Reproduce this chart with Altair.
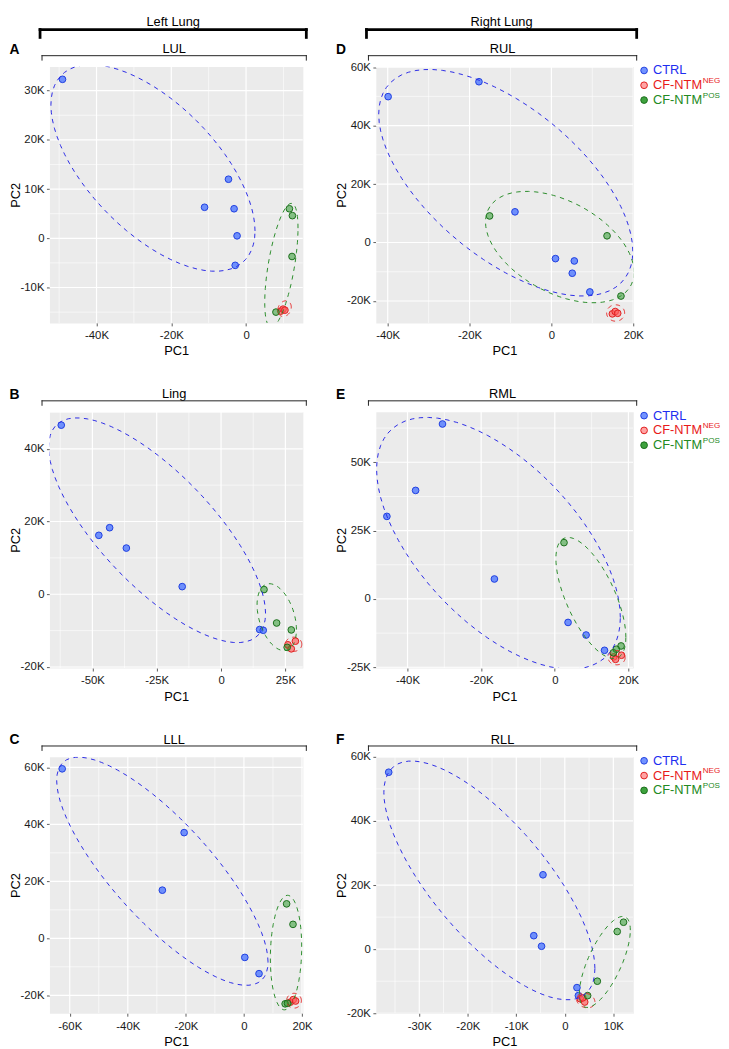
import math
import pandas as pd
import altair as alt

# ---------------- groups / colours ----------------
GROUPS = ["CTRL", "CF-NTM NEG", "CF-NTM POS"]
LEGEND_MAIN = ["CTRL", "CF-NTM", "CF-NTM"]
LEGEND_SUP = ["", "NEG", "POS"]
FILL_COLORS = ["#4A74FF", "#FF5A5A", "#2E9A2E"]
FILL_OPACITY = [0.78, 0.55, 0.92]
STROKE_COLORS = ["#1F3FE0", "#E01E1E", "#1A6E1A"]
ELLIPSE_COLORS = ["#2B2BE6", "#E62828", "#2A8C2A"]
LEGEND_TEXT_COLORS = ["#1E2EF0", "#E81A1A", "#238A23"]

# ---------------- data (PC scores, in thousands) ----------------
# LUL
LUL_CTRL_PC1 = [-49.1, -4.7, -11.1, -3.2, -2.4, -2.9]
LUL_CTRL_PC2 = [32.3, 12.0, 6.3, 6.0, 0.5, -5.5]
LUL_NEG_PC1 = [9.3, 9.9, 10.4]
LUL_NEG_PC2 = [-14.8, -14.4, -14.6]
LUL_POS_PC1 = [11.6, 12.4, 12.3, 8.0]
LUL_POS_PC2 = [6.0, 4.6, -3.7, -15.0]
# Ling
LING_CTRL_PC1 = [-62.1, -47.5, -43.3, -36.8, -15.1, 15.0, 16.4]
LING_CTRL_PC2 = [46.5, 16.2, 18.3, 12.7, 2.1, -9.7, -9.9]
LING_NEG_PC1 = [26.0, 28.9, 27.3]
LING_NEG_PC2 = [-13.9, -12.9, -15.0]
LING_POS_PC1 = [16.7, 21.6, 27.3, 25.7]
LING_POS_PC2 = [1.3, -7.9, -9.8, -14.6]
# LLL
LLL_CTRL_PC1 = [-62.6, -20.6, -28.1, 0.3, 5.2]
LLL_CTRL_PC2 = [59.5, 37.1, 16.9, -6.7, -12.4]
LLL_NEG_PC1 = [16.0, 17.0, 17.8]
LLL_NEG_PC2 = [-22.4, -21.5, -22.0]
LLL_POS_PC1 = [14.7, 16.9, 14.2, 15.0]
LLL_POS_PC2 = [12.1, 4.9, -23.0, -22.8]
# RUL
RUL_CTRL_PC1 = [-39.9, -17.7, -8.9, 1.0, 5.6, 5.1, 9.4]
RUL_CTRL_PC2 = [49.9, 55.0, 10.5, -5.5, -6.3, -10.5, -16.9]
RUL_NEG_PC1 = [14.9, 15.6, 16.2]
RUL_NEG_PC2 = [-24.4, -23.6, -24.2]
RUL_POS_PC1 = [-15.1, 13.6, 17.0]
RUL_POS_PC2 = [9.1, 2.3, -18.3]
# RML
RML_CTRL_PC1 = [-30.5, -37.8, -45.6, -16.4, 3.6, 8.5, 13.5]
RML_CTRL_PC2 = [64.0, 39.7, 30.2, 7.3, -8.6, -13.2, -18.8]
RML_NEG_PC1 = [16.0, 18.1, 16.5]
RML_NEG_PC2 = [-21.2, -20.6, -22.1]
RML_POS_PC1 = [2.5, 18.0, 16.7, 15.9]
RML_POS_PC2 = [20.6, -17.2, -18.4, -19.7]
# RLL
RLL_CTRL_PC1 = [-36.3, -4.5, -6.4, -4.8, 2.5, 2.8]
RLL_CTRL_PC2 = [55.2, 23.2, 4.2, 0.9, -12.0, -14.5]
RLL_NEG_PC1 = [3.2, 4.1, 3.7]
RLL_NEG_PC2 = [-15.5, -16.5, -15.2]
RLL_POS_PC1 = [12.1, 10.8, 6.7, 4.7]
RLL_POS_PC2 = [8.4, 5.5, -10.0, -14.5]

# ---------------- ellipses (CTRL, NEG, POS): centre, half-extent, tilt ----------------
LUL_ELL_CX = [-24.9, 10.3, 9.45]
LUL_ELL_CY = [14.3, -14.3, -5.5]
LUL_ELL_HX = [27.3, 1.8, 4.45]
LUL_ELL_HY = [21.0, 1.6, 12.6]
LUL_ELL_RHO = [-0.61, 0.2, 0.60]

LING_ELL_CX = [-24.85, 28.2, 21.65]
LING_ELL_CY = [17.6, -13.75, -6.3]
LING_ELL_HX = [42.15, 3.2, 7.65]
LING_ELL_HY = [30.9, 1.95, 9.2]
LING_ELL_RHO = [-0.74, 0.0, -0.37]

LLL_ELL_CX = [-28.1, 17.25, 14.5]
LLL_ELL_CY = [23.55, -21.9, -5.0]
LLL_ELL_HX = [36.4, 2.55, 5.4]
LLL_ELL_HY = [40.05, 2.6, 20.1]
LLL_ELL_RHO = [-0.795, 0.0, 0.1]

RUL_ELL_CX = [-11.15, 15.7, 2.05]
RUL_ELL_CY = [20.45, -24.1, -1.55]
RUL_ELL_HX = [31.05, 2.2, 18.15]
RUL_ELL_HY = [38.75, 2.8, 19.05]
RUL_ELL_RHO = [-0.605, 0.0, -0.45]

RML_ELL_CX = [-15.3, 16.8, 9.8]
RML_ELL_CY = [20.35, -21.5, 0.35]
RML_ELL_HX = [33.1, 2.3, 9.5]
RML_ELL_HY = [46.05, 2.6, 22.15]
RML_ELL_RHO = [-0.59, 0.0, -0.65]

RLL_ELL_CX = [-15.55, 4.3, 8.25]
RLL_ELL_CY = [21.45, -16.0, -4.0]
RLL_ELL_HX = [21.75, 1.9, 5.25]
RLL_ELL_HY = [37.25, 2.3, 14.2]
RLL_ELL_RHO = [-0.737, -0.2, 0.70]

# ---------------- axes: ranges, major / minor ticks ----------------
LUL_X_RANGE = [-52.6, 15.2]
LUL_Y_RANGE = [-17.2, 34.9]
LUL_X_TICKS = [-40, -20, 0]
LUL_X_MINOR = [-50, -30, -10, 10]
LUL_Y_TICKS = [-10, 0, 10, 20, 30]
LUL_Y_MINOR = [-15, -5, 5, 15, 25]

LING_X_RANGE = [-66.7, 31.8]
LING_Y_RANGE = [-20.3, 50.2]
LING_X_TICKS = [-50, -25, 0, 25]
LING_X_MINOR = [-62.5, -37.5, -12.5, 12.5]
LING_Y_TICKS = [-20, 0, 20, 40]
LING_Y_MINOR = [-10, 10, 30, 50]

LLL_X_RANGE = [-67.0, 20.3]
LLL_Y_RANGE = [-26.3, 63.7]
LLL_X_TICKS = [-60, -40, -20, 0, 20]
LLL_X_MINOR = [-50, -30, -10, 10]
LLL_Y_TICKS = [-20, 0, 20, 40, 60]
LLL_Y_MINOR = [-10, 10, 30, 50]

RUL_X_RANGE = [-42.9, 20.0]
RUL_Y_RANGE = [-27.5, 60.2]
RUL_X_TICKS = [-40, -20, 0, 20]
RUL_X_MINOR = [-30, -10, 10]
RUL_Y_TICKS = [-20, 0, 20, 40, 60]
RUL_Y_MINOR = [-10, 10, 30, 50]

RML_X_RANGE = [-48.6, 21.3]
RML_Y_RANGE = [-25.3, 68.5]
RML_X_TICKS = [-40, -20, 0, 20]
RML_X_MINOR = [-30, -10, 10]
RML_Y_TICKS = [-25, 0, 25, 50]
RML_Y_MINOR = [-12.5, 12.5, 37.5, 62.5]

RLL_X_RANGE = [-38.95, 14.1]
RLL_Y_RANGE = [-20.0, 60.0]
RLL_X_TICKS = [-30, -20, -10, 0, 10]
RLL_X_MINOR = [-35, -25, -15, -5, 5]
RLL_Y_TICKS = [-20, 0, 20, 40, 60]
RLL_Y_MINOR = [-10, 10, 30, 50]

FONT = "Liberation Sans"
LABEL_EXPR = "datum.value == 0 ? '0' : datum.value + 'K'"
ONE = pd.DataFrame({"k": [0]})
H = 260


def points_frame(xs_all, ys_all):
    rows = []
    for g, xs, ys in zip(GROUPS, xs_all, ys_all):
        for x, y in zip(xs, ys):
            rows.append({"group": g, "pc1": x, "pc2": y, "k": len(rows)})
    return pd.DataFrame(rows)


def ellipse_frame(cx, cy, hx, hy, rho, n=73):
    rows = []
    for g, a, b, c, d, r in zip(GROUPS, cx, cy, hx, hy, rho):
        s = math.sqrt(1 - r * r)
        for i in range(n):
            t = 2 * math.pi * i / (n - 1)
            rows.append({"group": g, "t": i,
                         "pc1": a + c * math.cos(t),
                         "pc2": b + d * (r * math.cos(t) + s * math.sin(t))})
    return pd.DataFrame(rows)


def text_layer(s, x, y, size=13, weight="normal", align="center",
               baseline="alphabetic", color="#000000"):
    return alt.Chart(ONE).mark_text(
        text=s, fontSize=size, fontWeight=weight, align=align,
        baseline=baseline, color=color, font=FONT
    ).encode(x=alt.value(x), y=alt.value(y))


def hrule(x1, x2, y, w, color):
    return alt.Chart(ONE).mark_rule(strokeWidth=w, color=color, strokeCap="square").encode(
        x=alt.value(x1), x2=alt.value(x2), y=alt.value(y))


def vrule(x, y1, y2, w, color):
    return alt.Chart(ONE).mark_rule(strokeWidth=w, color=color, strokeCap="square").encode(
        x=alt.value(x), y=alt.value(y1), y2=alt.value(y2))


def panel(strip, letter, pts, ell, xr, yr, xt, xm, yt, ym, width,
          header=None, legend=False):
    sx = alt.Scale(domain=xr, nice=False, zero=False)
    sy = alt.Scale(domain=yr, nice=False, zero=False)
    gscale = lambda rng: alt.Scale(domain=GROUPS, range=rng)

    xaxis = alt.Axis(values=xt, labelExpr=LABEL_EXPR, title="PC1", grid=False, domain=False,
                     tickSize=3, tickColor="#333333", tickWidth=0.8, labelFontSize=11.5,
                     labelColor="#1a1a1a", labelPadding=4, labelFlush=False, labelOverlap=False,
                     titleFontSize=13, titleFontWeight="normal", titleColor="#000000",
                     titlePadding=4)
    yaxis = alt.Axis(values=yt, labelExpr=LABEL_EXPR, title="PC2", grid=False, domain=False,
                     tickSize=3, tickColor="#333333", tickWidth=0.8, labelFontSize=11.5,
                     labelColor="#1a1a1a", labelPadding=2.5, labelFlush=False, labelOverlap=False,
                     titleFontSize=13, titleFontWeight="normal", titleColor="#000000",
                     titlePadding=-2)
    X = lambda f: alt.X(f, scale=sx, axis=xaxis)
    Y = lambda f: alt.Y(f, scale=sy, axis=yaxis)

    layers = [
        alt.Chart(pd.DataFrame({"v": xm})).mark_rule(color="white", strokeWidth=0.6, clip=True)
        .encode(x=X("v:Q")),
        alt.Chart(pd.DataFrame({"v": ym})).mark_rule(color="white", strokeWidth=0.6, clip=True)
        .encode(y=Y("v:Q")),
        alt.Chart(pd.DataFrame({"v": xt})).mark_rule(color="white", strokeWidth=1.2, clip=True)
        .encode(x=X("v:Q")),
        alt.Chart(pd.DataFrame({"v": yt})).mark_rule(color="white", strokeWidth=1.2, clip=True)
        .encode(y=Y("v:Q")),
        alt.Chart(pts).mark_circle(size=46, strokeWidth=1, opacity=1, clip=True).encode(
            x=X("pc1:Q"), y=Y("pc2:Q"),
            fill=alt.Fill("group:N", scale=gscale(FILL_COLORS), legend=None),
            fillOpacity=alt.FillOpacity("group:N", scale=gscale(FILL_OPACITY), legend=None),
            stroke=alt.Stroke("group:N", scale=gscale(STROKE_COLORS), legend=None),
            order=alt.Order("k:Q"),
        ),
        alt.Chart(ell).mark_line(strokeDash=[4.5, 4.5], strokeWidth=1.0, clip=True).encode(
            x=X("pc1:Q"), y=Y("pc2:Q"),
            color=alt.Color("group:N", scale=gscale(ELLIPSE_COLORS), legend=None),
            order=alt.Order("t:Q"),
        ),
    ]

    # strip label with bracket
    bx1, bx2 = -7.5, width + 3.5
    layers += [
        text_layer(strip, (bx1 + bx2) / 2, -13.5, size=13),
        hrule(bx1, bx2, -11, 1, "#222222"),
        vrule(bx1, -11, -6.5, 1, "#222222"),
        vrule(bx2, -11, -6.5, 1, "#222222"),
        text_layer(letter, -40.5, -13, size=14, weight="bold", align="left"),
    ]
    if header:
        hx1, hx2 = -9.5, width + 3.5
        layers += [
            text_layer(header, (hx1 + hx2) / 2, -41.5, size=13),
            hrule(hx1, hx2, -37.5, 2.8, "#000000"),
            vrule(hx1, -37.5, -29.5, 2.8, "#000000"),
            vrule(hx2, -37.5, -29.5, 2.8, "#000000"),
        ]
    if legend:
        for i in range(3):
            yy = 4 + 15 * i
            layers.append(
                alt.Chart(ONE).mark_circle(size=46, strokeWidth=1, opacity=1,
                                           fill=FILL_COLORS[i], fillOpacity=FILL_OPACITY[i],
                                           stroke=STROKE_COLORS[i])
                .encode(x=alt.value(width + 11), y=alt.value(yy))
            )
            layers.append(text_layer(LEGEND_MAIN[i], width + 20, yy, size=13, align="left",
                                     baseline="middle", color=LEGEND_TEXT_COLORS[i]))
            if LEGEND_SUP[i]:
                layers.append(text_layer(LEGEND_SUP[i], width + 70.5, yy - 4.5, size=8.2,
                                         align="left", baseline="middle",
                                         color=LEGEND_TEXT_COLORS[i]))
    return alt.layer(*layers).properties(width=width, height=H)


WL, WR = 257, 261

pA = panel("LUL", "A",
           points_frame([LUL_CTRL_PC1, LUL_NEG_PC1, LUL_POS_PC1], [LUL_CTRL_PC2, LUL_NEG_PC2, LUL_POS_PC2]),
           ellipse_frame(LUL_ELL_CX, LUL_ELL_CY, LUL_ELL_HX, LUL_ELL_HY, LUL_ELL_RHO),
           LUL_X_RANGE, LUL_Y_RANGE, LUL_X_TICKS, LUL_X_MINOR, LUL_Y_TICKS, LUL_Y_MINOR,
           WL, header="Left Lung")
pB = panel("Ling", "B",
           points_frame([LING_CTRL_PC1, LING_NEG_PC1, LING_POS_PC1], [LING_CTRL_PC2, LING_NEG_PC2, LING_POS_PC2]),
           ellipse_frame(LING_ELL_CX, LING_ELL_CY, LING_ELL_HX, LING_ELL_HY, LING_ELL_RHO),
           LING_X_RANGE, LING_Y_RANGE, LING_X_TICKS, LING_X_MINOR, LING_Y_TICKS, LING_Y_MINOR, WL)
pC = panel("LLL", "C",
           points_frame([LLL_CTRL_PC1, LLL_NEG_PC1, LLL_POS_PC1], [LLL_CTRL_PC2, LLL_NEG_PC2, LLL_POS_PC2]),
           ellipse_frame(LLL_ELL_CX, LLL_ELL_CY, LLL_ELL_HX, LLL_ELL_HY, LLL_ELL_RHO),
           LLL_X_RANGE, LLL_Y_RANGE, LLL_X_TICKS, LLL_X_MINOR, LLL_Y_TICKS, LLL_Y_MINOR, WL)
pD = panel("RUL", "D",
           points_frame([RUL_CTRL_PC1, RUL_NEG_PC1, RUL_POS_PC1], [RUL_CTRL_PC2, RUL_NEG_PC2, RUL_POS_PC2]),
           ellipse_frame(RUL_ELL_CX, RUL_ELL_CY, RUL_ELL_HX, RUL_ELL_HY, RUL_ELL_RHO),
           RUL_X_RANGE, RUL_Y_RANGE, RUL_X_TICKS, RUL_X_MINOR, RUL_Y_TICKS, RUL_Y_MINOR,
           WR, header="Right Lung", legend=True)
pE = panel("RML", "E",
           points_frame([RML_CTRL_PC1, RML_NEG_PC1, RML_POS_PC1], [RML_CTRL_PC2, RML_NEG_PC2, RML_POS_PC2]),
           ellipse_frame(RML_ELL_CX, RML_ELL_CY, RML_ELL_HX, RML_ELL_HY, RML_ELL_RHO),
           RML_X_RANGE, RML_Y_RANGE, RML_X_TICKS, RML_X_MINOR, RML_Y_TICKS, RML_Y_MINOR,
           WR, legend=True)
pF = panel("RLL", "F",
           points_frame([RLL_CTRL_PC1, RLL_NEG_PC1, RLL_POS_PC1], [RLL_CTRL_PC2, RLL_NEG_PC2, RLL_POS_PC2]),
           ellipse_frame(RLL_ELL_CX, RLL_ELL_CY, RLL_ELL_HX, RLL_ELL_HY, RLL_ELL_RHO),
           RLL_X_RANGE, RLL_Y_RANGE, RLL_X_TICKS, RLL_X_MINOR, RLL_Y_TICKS, RLL_Y_MINOR,
           WR, legend=True)

chart = alt.concat(pA, pD, pB, pE, pC, pF, columns=2,
                   spacing={"row": 29, "column": 22}).properties(
    padding=0, background="white"
).configure(font=FONT).configure_view(fill="#EBEBEB", stroke="transparent")

chart.save("out.html", embed_options={"renderer": "svg", "actions": False})
